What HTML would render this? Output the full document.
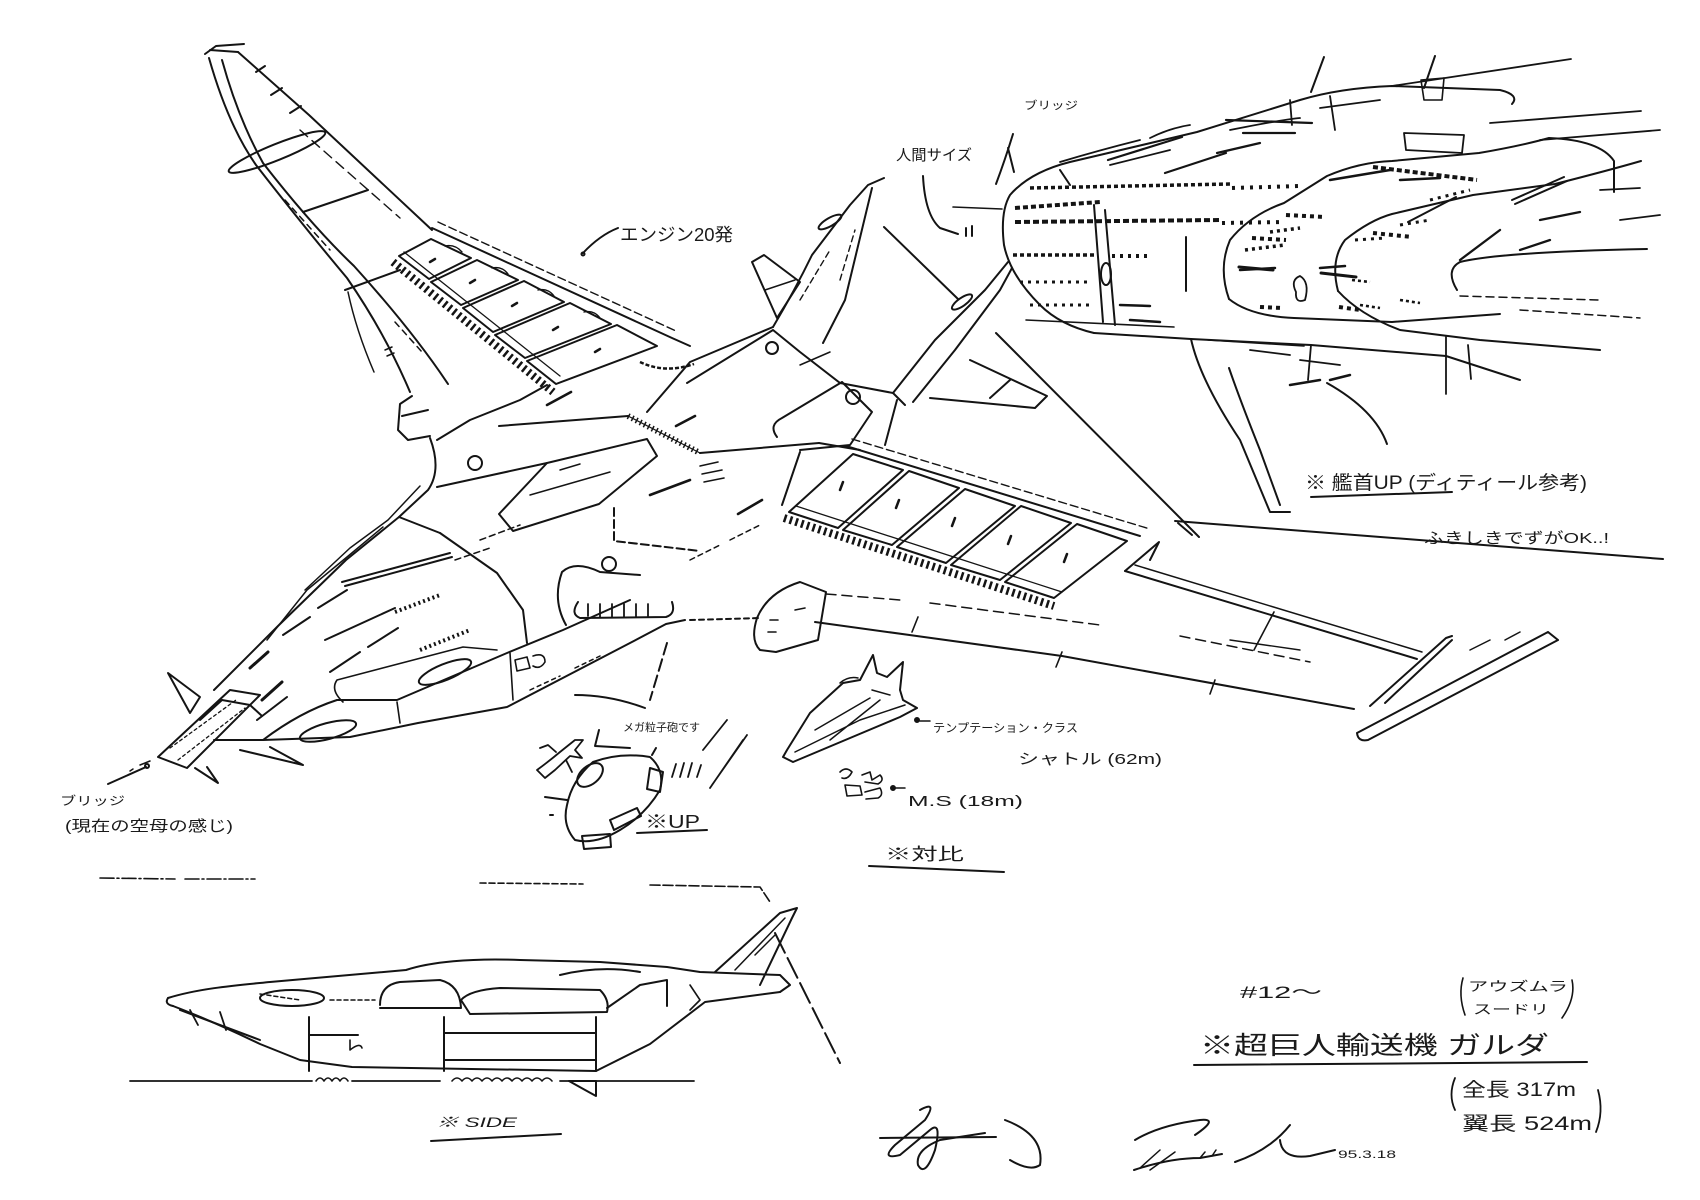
<!DOCTYPE html>
<html><head><meta charset="utf-8">
<style>
html,body{margin:0;padding:0;background:#fff;}
#c{position:relative;width:1700px;height:1200px;overflow:hidden;background:#fff;}
svg{position:absolute;left:0;top:0;}
.t{font-family:"Liberation Sans","Noto Sans CJK JP",sans-serif;fill:#1a1a1a;}
</style></head><body><div id="c">
<svg width="1700" height="1200" viewBox="0 0 1700 1200" xmlns="http://www.w3.org/2000/svg">
<g fill="none" stroke="#141414" stroke-width="2" stroke-linecap="round" stroke-linejoin="round">

<!-- ============ LEFT WING ============ -->
<path d="M209,58 Q228,125 256,165 Q305,228 347,278 Q385,333 410,392"/>
<path d="M222,60 Q238,118 263,163 Q312,226 354,266 Q412,330 448,384"/>
<path d="M238,52 L309,115 L432,230"/>
<path d="M205,54 L216,46 L244,44 M210,50 L238,52"/>
<path d="M256,72 l9,-6 M271,95 l11,-7 M290,113 l11,-7"/>
<ellipse cx="277" cy="152" rx="52" ry="8" transform="rotate(-22 277 152)"/>
<path d="M303,212 L368,190 M345,290 L400,270"/>
<path d="M348,292 Q356,330 374,372" stroke-width="1.5"/>
<path d="M285,200 L330,250 M395,322 L422,352" stroke-dasharray="6 5" stroke-width="1.5"/>
<path d="M300,130 L400,218" stroke-dasharray="10 6" stroke-width="1.4"/>
<path d="M385,350 L392,347 M387,356 L394,353" stroke-width="1.5"/>
<path d="M412,396 L400,404 L398,430 L408,440 L430,436 M402,416 L428,410"/>

<!-- left pods -->
<path d="M432,228 L672,338 L690,346"/>
<path d="M438,222 L676,331" stroke-width="1.4" stroke-dasharray="8 4"/>
<path d="M431,239 L471,258 L429,279 L399,256 Z"/>
<path d="M477,260 L518,280 L461,305 L431,282 Z"/>
<path d="M524,281 L564,302 L493,332 L463,308 Z"/>
<path d="M570,303 L611,324 L525,358 L495,335 Z"/>
<path d="M617,325 L657,346 L556,384 L527,361 Z"/>
<path d="M393,262 L553,392" stroke-width="8" stroke-dasharray="2.5 3.5" stroke-linecap="butt"/>
<path d="M404,252 L560,376" stroke-width="1.3"/>
<path d="M430,262 l5,-3 M470,283 l5,-3 M512,306 l5,-3 M553,330 l5,-3 M595,352 l5,-3" stroke-width="2.5"/>
<path d="M445,246 Q455,244 462,252 M492,268 Q502,266 508,274 M538,290 Q548,288 554,296 M584,312 Q594,310 600,318" stroke-width="1.4"/>
<path d="M640,362 Q665,374 694,364" stroke-dasharray="4 2" stroke-width="2.5" stroke-linecap="butt"/>

<!-- ============ FUSELAGE ============ -->
<path d="M430,438 Q442,470 428,490 L399,517 L346,560 L279,625 L214,690"/>
<path d="M420,486 L388,520 L350,548 L305,590" stroke-width="1.5"/>
<!-- nose -->
<path d="M158,757 L230,690 L260,695 L187,768 Z"/>
<path d="M170,748 L236,700 M178,760 L245,708" stroke-width="1.3" stroke-dasharray="3 3"/>
<path d="M200,720 L222,700 L250,705 L262,716"/>
<path d="M168,673 L200,697 L190,713 Z"/>
<path d="M195,768 L218,783 L207,767"/>
<path d="M240,750 L303,765 L270,747"/>
<path d="M150,761 L140,765 M133,769 l-3,2" stroke-width="1.5"/>
<!-- lower edge -->
<path d="M214,740 L263,740 L350,737 L418,723 L507,707 L630,643 L666,624 L685,620"/>
<path d="M690,620 L760,618" stroke-dasharray="5 4"/>
<path d="M263,740 Q300,712 337,700 L397,700 L507,653 L563,630 L630,600"/>
<path d="M343,702 Q330,690 337,680 L463,647 L497,650" stroke-width="1.6"/>
<path d="M397,702 L400,723 M510,653 L513,700" stroke-width="1.6"/>
<ellipse cx="328" cy="731" rx="29" ry="8" transform="rotate(-15 328 731)"/>
<ellipse cx="445" cy="672" rx="28" ry="8" transform="rotate(-22 445 672)"/>
<path d="M515,660 L527,657 L530,668 L517,671 Z M533,656 Q545,652 545,662 Q540,670 533,666" stroke-width="1.6"/>
<path d="M530,690 L560,676 M575,668 L600,656" stroke-width="1.5" stroke-dasharray="4 4"/>
<!-- slots -->
<path d="M342,582 L450,553 M345,586 L452,557"/>
<path d="M318,608 L347,590 M283,635 L310,617 M368,647 L398,628 M330,672 L360,652 M257,720 L287,697 M325,640 L395,608"/>
<path d="M395,612 L440,595 M420,650 L470,630" stroke-width="4" stroke-dasharray="2 3" stroke-linecap="butt"/>
<path d="M267,640 L307,590 L347,557 L383,527" stroke-width="1.5"/>
<path d="M250,668 l18,-16 M262,700 l20,-18" stroke-width="3"/>
<!-- panels -->
<path d="M440,533 L497,573 L523,610 L527,643"/>
<path d="M399,517 L440,533"/>
<path d="M437,487 L547,463"/>
<path d="M499,514 L513,531 L599,504 L657,456 L647,439 L547,463 Z"/>
<path d="M530,495 L610,472 M560,470 L580,464" stroke-width="1.5"/>
<circle cx="475" cy="463" r="7"/>
<circle cx="609" cy="564" r="7"/>
<path d="M614,508 L614,541 L700,551" stroke-dasharray="8 4"/>
<path d="M566,625 Q552,600 562,572 Q575,560 600,572 L640,575"/>
<path d="M578,602 Q570,614 580,618 L666,617 Q676,614 672,602" />
<path d="M588,604 L588,616 M600,604 L600,617 M612,604 L612,617 M624,604 L624,617 M636,604 L636,617 M648,604 L648,617" stroke-width="1.8"/>
<path d="M628,416 L700,453" stroke-width="6" stroke-dasharray="1.5 3" stroke-linecap="butt"/>
<path d="M628,416 L700,453" stroke-width="1.2"/>
<path d="M700,453 L819,443 M499,426 L628,416"/>
<path d="M676,426 L695,416 M738,514 L762,500 M547,405 L571,392 M650,495 L690,480" stroke-width="2.6"/>
<path d="M700,466 L718,462 M702,474 L722,470 M704,482 L724,478" stroke-width="1.6"/>
<path d="M690,560 L720,545 M730,540 L760,525" stroke-width="1.5" stroke-dasharray="5 4"/>
<path d="M437,440 L470,420 L520,400 L547,385"/>
<path d="M480,540 L520,525 M455,560 L490,548" stroke-width="1.5" stroke-dasharray="6 4"/>
<!-- tail region -->
<path d="M647,412 L690,362 L773,327"/>
<path d="M687,383 L773,330 L800,352 L840,383 L893,393 L905,405"/>
<path d="M777,437 Q768,425 782,418 L842,382 M842,382 L872,412 L850,445 L800,450"/>
<circle cx="772" cy="348" r="6"/>
<circle cx="853" cy="397" r="7"/>
<path d="M800,365 L830,352" stroke-width="1.5"/>
<path d="M752,262 L764,255 L800,282 L777,318 Z"/>
<path d="M765,290 L795,280" stroke-width="1.5"/>
<path d="M773,327 Q795,290 812,255 L850,205 L868,185 L884,178"/>
<path d="M823,343 L845,300 L872,188"/>
<path d="M800,300 L830,250 M840,280 L855,230" stroke-width="1.4" stroke-dasharray="6 4"/>
<ellipse cx="830" cy="222" rx="13" ry="4" transform="rotate(-30 830 222)"/>
<path d="M893,393 L935,340 L985,290 L1008,262"/>
<path d="M913,402 L955,350 L1000,290 L1012,268"/>
<ellipse cx="962" cy="302" rx="12" ry="4" transform="rotate(-35 962 302)"/>
<path d="M970,360 L1047,396 L1035,408 L930,398"/>
<path d="M990,398 L1010,380"/>
<path d="M897,400 L885,445 M819,443 L860,450 M800,452 L782,505"/>

<!-- right pods -->
<path d="M846,446 L1140,536"/>
<path d="M852,439 L1150,529" stroke-width="1.4" stroke-dasharray="8 4"/>
<path d="M853,454 L903,470 L838,528 L789,512 Z"/>
<path d="M909,471 L959,488 L892,545 L843,530 Z"/>
<path d="M965,489 L1015,506 L946,563 L897,547 Z"/>
<path d="M1021,506 L1071,523 L1000,580 L951,565 Z"/>
<path d="M1077,524 L1127,541 L1054,598 L1005,582 Z"/>
<path d="M784,518 L1054,606" stroke-width="8" stroke-dasharray="2.5 3.5" stroke-linecap="butt"/>
<path d="M796,506 L1062,592" stroke-width="1.3"/>
<path d="M840,490 l3,-8 M896,508 l3,-8 M952,526 l3,-8 M1008,544 l3,-8 M1064,562 l3,-8" stroke-width="2.5"/>

<!-- right wing -->
<path d="M757,618 Q750,640 760,650 L776,652 L818,640 L826,592 L800,582 Q768,592 757,618 Z"/>
<path d="M770,620 l8,0 M768,632 l8,0 M795,610 l10,-2" stroke-width="1.6"/>
<path d="M1125,571 L1159,542 L1150,560"/>
<path d="M1125,571 L1417,659"/>
<path d="M1135,565 L1422,652" stroke-width="1.5"/>
<path d="M815,622 L1062,656 L1354,709"/>
<path d="M826,594 L900,600 M930,603 L1100,625 M1180,636 L1310,662" stroke-width="1.5" stroke-dasharray="10 6"/>
<path d="M918,617 L912,632 M1062,652 L1056,667 M1215,680 L1210,694 M1274,612 L1254,650" stroke-width="1.6"/>
<path d="M1230,640 L1300,650" stroke-width="1.4"/>
<path d="M1357,733 L1548,632 M1368,740 L1558,640 M1548,632 L1558,640 M1357,733 Q1358,742 1368,740"/>
<path d="M1370,706 L1446,638 M1385,703 L1452,640 M1446,638 L1452,636"/>
<path d="M1470,650 L1490,640 M1505,640 L1520,632" stroke-width="1.5"/>

<!-- ============ BRIDGE CLOSE-UP ============ -->
<path d="M1094,333 Q1060,325 1040,305 Q1010,275 1004,245 Q1000,212 1010,195 Q1030,172 1070,162 L1121,150 L1197,132 L1300,100 Q1340,88 1392,86 L1500,90 Q1520,95 1512,104"/>
<path d="M1094,333 L1191,339 L1311,345 L1446,356 L1520,380"/>
<g stroke-linecap="butt">
<path d="M1015,208 L1100,202" stroke-width="4" stroke-dasharray="5 3"/>
<path d="M1030,188 L1230,184" stroke-width="3.5" stroke-dasharray="4 3"/>
<path d="M1015,222 L1220,220" stroke-width="4" stroke-dasharray="6 3"/>
<path d="M1013,255 L1094,255" stroke-width="3.5" stroke-dasharray="4 3"/>
<path d="M1020,282 L1090,282 M1030,305 L1090,305" stroke-width="3" stroke-dasharray="3 5"/>
<path d="M1232,188 L1300,186 M1222,223 L1285,222" stroke-width="4" stroke-dasharray="3 6"/>
<path d="M1112,256 L1150,256" stroke-width="4" stroke-dasharray="3 5"/>
<path d="M1245,250 L1285,245 M1270,232 L1300,228" stroke-width="3.5" stroke-dasharray="3 4"/>
<path d="M1355,240 L1385,238 M1400,225 L1430,220 M1430,200 L1470,190" stroke-width="3" stroke-dasharray="3 5"/>
<path d="M1352,280 L1370,282 M1360,305 L1380,308 M1400,300 L1420,303" stroke-width="2.6" stroke-dasharray="3 3"/>
<path d="M1286,215 L1325,217 M1373,233 L1412,237 M1252,238 L1286,240 M1339,307 L1360,310 M1260,307 L1282,308" stroke-width="4" stroke-dasharray="4 4"/>
<path d="M1373,167 L1477,180" stroke-width="4" stroke-dasharray="5 3"/>
</g>
<path d="M1094,205 L1103,322 M1105,210 L1115,325 M1186,237 L1186,291 M1060,170 L1070,185"/>
<ellipse cx="1106" cy="274" rx="5" ry="11"/>
<path d="M1120,305 L1150,306 M1130,320 L1160,322" stroke-width="2.5"/>
<path d="M1060,162 Q1100,150 1140,140 M1150,138 Q1170,128 1190,125 M1110,165 L1170,150 M1230,130 Q1280,120 1300,118 M1320,108 L1380,100" stroke-width="1.8"/>
<path d="M1226,120 L1312,123 M1243,133 L1295,133 M1108,160 L1182,137 M1165,173 L1226,153 M1217,153 L1260,143" stroke-width="2.2"/>
<path d="M1239,267 L1273,270 M1321,273 L1356,277" stroke-width="3"/>
<path d="M1404,133 L1464,135 L1462,153 L1406,150 Z" stroke-width="1.8"/>
<path d="M1408,222 L1456,197 M1512,200 L1564,177 M1515,204 L1567,181" stroke-width="2"/>
<path d="M1026,320 L1174,327 M1208,340 L1304,346" stroke-width="1.6"/>
<path d="M1290,100 L1292,125 M1330,96 L1335,130" stroke-width="1.8"/>
<path d="M1229,299 Q1218,268 1230,240 Q1250,215 1284,203 L1327,176 Q1360,162 1392,161 L1479,153 Q1520,146 1549,138 Q1600,140 1614,161 L1614,192"/>
<path d="M1229,299 Q1250,316 1294,318 L1392,322 L1500,314"/>
<path d="M1338,291 Q1330,260 1345,240 Q1370,220 1392,214 L1473,195 L1555,184 Q1610,170 1641,161"/>
<path d="M1338,291 Q1360,315 1400,330 L1480,340 L1600,350"/>
<path d="M1457,290 Q1445,270 1460,262 Q1500,252 1647,249"/>
<path d="M1460,296 L1600,300 M1520,310 L1640,318" stroke-dasharray="8 5" stroke-width="1.5"/>
<path d="M1392,86 L1571,59 M1490,123 L1641,111 M1540,140 L1660,130 M1600,190 L1640,188 M1620,220 L1660,215" stroke-width="1.8"/>
<path d="M1324,57 L1311,92 M1435,56 L1424,88"/>
<path d="M1421,80 L1444,78 L1442,100 L1424,100 Z" stroke-width="1.6"/>
<path d="M1240,270 L1275,268 M1320,268 L1345,266 M1330,180 L1390,170 M1400,180 L1440,178" stroke-width="2.5"/>
<path d="M1460,260 L1500,230 M1520,250 L1550,240 M1540,220 L1580,212" stroke-width="2.3"/>
<path d="M1296,292 Q1290,280 1300,276 Q1310,282 1305,300 Q1295,304 1296,292" stroke-width="1.8"/>
<path d="M1191,339 Q1200,380 1240,440 L1270,512 L1290,512"/>
<path d="M1229,368 Q1240,400 1260,450 L1280,505"/>
<path d="M1327,383 Q1375,410 1387,444"/>
<path d="M1446,337 L1446,394 M1468,345 L1471,379 M1311,345 L1308,380 M1250,350 L1290,355 M1300,360 L1340,365" stroke-width="1.8"/>
<path d="M1290,385 L1320,380 M1330,380 L1350,375" stroke-width="2.5"/>
<path d="M1013,134 Q1005,160 996,184 M1008,148 L1014,172"/>
<path d="M923,176 Q925,215 940,228 L958,234"/>
<path d="M966,228 L966,236 M972,226 L972,236"/>
<path d="M953,207 L1002,209" stroke-width="1.6"/>
<path d="M884,227 L958,299"/>
<path d="M996,333 L1199,537"/>
<path d="M1175,521 L1663,559"/>
<path d="M1178,523 L1192,535"/>
<path d="M1311,497 L1452,492"/>

<!-- ============ SMALL ITEMS ============ -->
<!-- UP circle -->
<path d="M593,762 Q620,752 650,757 Q665,770 660,790 Q645,815 620,830 Q595,845 575,840 Q562,825 567,805 Q572,780 593,762 Z"/>
<ellipse cx="590" cy="775" rx="15" ry="9" transform="rotate(-40 590 775)"/>
<path d="M650,768 L663,772 L660,792 L647,789 Z"/>
<path d="M610,820 L637,808 L641,816 L614,830 Z"/>
<path d="M582,836 L610,834 L611,847 L584,849 Z"/>
<path d="M652,755 L656,748 M545,797 L567,800 M550,815 l3,0"/>
<path d="M537,770 Q548,762 560,752 L575,740 L583,740 L575,750 L582,758 L570,756 L555,770 L545,778 Z" stroke-width="1.8"/>
<path d="M540,748 L548,745 L556,752 M566,760 L572,772" stroke-width="1.8"/>
<path d="M599,730 L595,746 L630,748"/>
<path d="M672,777 L676,764 M680,777 L684,763 M688,777 L692,763 M697,777 L701,765" stroke-width="1.8"/>
<path d="M727,720 L703,750 M747,735 L712,785 M743,740 L710,788" stroke-width="1.8"/>
<path d="M575,695 Q610,695 645,708"/>
<path d="M667,643 L650,700" stroke-dasharray="12 5"/>
<path d="M637,833 L707,830"/>
<!-- fighter -->
<path d="M783,757 L793,762 L900,717 L917,708 L903,700 L900,690 L903,662 L887,677 L877,673 L873,655 L860,680 L843,683 L810,713 L787,750 Z"/>
<path d="M795,752 L860,720 L905,705 M815,730 L870,698 M830,740 L880,700 M872,690 L890,695" stroke-width="1.5"/>
<path d="M840,683 Q848,676 858,678" stroke-width="1.5"/>
<circle cx="917" cy="720" r="2" fill="#141414"/>
<path d="M920,721 L930,721" stroke-width="1.5"/>
<!-- MS -->
<path d="M840,772 Q846,766 852,772 Q848,780 842,778 M845,785 L860,786 L862,795 L847,796 Z M862,775 L870,772 L872,780 L880,775 Q885,780 878,784 L865,782" stroke-width="1.6"/>
<path d="M865,792 L880,788 Q884,795 878,798 L866,799" stroke-width="1.6"/>
<circle cx="893" cy="788" r="2" fill="#141414"/>
<path d="M896,788 L905,788" stroke-width="1.5"/>
<!-- leader for bridge (left) -->
<path d="M108,784 L146,767"/>
<circle cx="147" cy="766" r="2"/>
<!-- engine leader -->
<path d="M583,253 Q600,235 618,228"/>
<circle cx="583" cy="254" r="1.5"/>
<!-- 対比 underline -->
<path d="M869,866 L1004,872"/>

<!-- ============ SIDE VIEW ============ -->
<path d="M100,878 L175,879 M185,879 L255,879" stroke-width="1.6" stroke-dasharray="14 3 2 3"/>
<path d="M480,883 L583,884" stroke-width="1.6" stroke-dasharray="6 3"/>
<path d="M650,885 L760,887 L770,902" stroke-width="1.6" stroke-dasharray="10 3"/>
<path d="M130,1081 L312,1081 M352,1081 L440,1081 M560,1081 L694,1081" stroke-width="1.8"/>
<path d="M316,1081 q4,-6 8,0 q4,-6 8,0 q4,-6 8,0 q4,-6 8,0" stroke-width="1.6"/>
<path d="M452,1081 q5,-6 10,0 q5,-6 10,0 q5,-6 10,0 q5,-6 10,0 q5,-6 10,0 q5,-6 10,0 q5,-6 10,0 q5,-6 10,0 q5,-6 10,0 q5,-6 10,0" stroke-width="1.6"/>
<path d="M168,998 C200,988 240,985 270,982 L406,970 C430,962 470,958 520,960 L600,962 L667,967 L700,972 L780,975 L790,985 L780,992"/>
<path d="M173,1006 Q210,1020 260,1044 L300,1060 L352,1067 L596,1071 L650,1044 L705,1002 L780,992"/>
<path d="M168,998 Q164,1004 173,1006"/>
<path d="M715,972 L780,913 L797,908 L792,918 L760,985"/>
<path d="M735,970 L785,918 M755,955 L775,935" stroke-width="1.5"/>
<path d="M380,1005 Q380,985 400,982 L440,980 Q460,985 461,1008 L380,1008" />
<ellipse cx="292" cy="998" rx="32" ry="8"/>
<path d="M461,1000 Q470,990 500,988 L600,990 Q610,1000 607,1012 L470,1014 Z"/>
<path d="M607,1008 L640,985 L667,980 L667,1006"/>
<path d="M560,975 Q600,965 640,972"/>
<path d="M309,1017 L309,1071 M444,1017 L444,1071 M596,1017 L596,1071"/>
<path d="M309,1035 L358,1035 M444,1033 L596,1033 M444,1060 L596,1060 M180,1010 L260,1040"/>
<path d="M350,1040 L350,1050 Q360,1042 362,1048" stroke-width="1.6"/>
<path d="M190,1010 L198,1025 M220,1012 L226,1030" stroke-width="1.8"/>
<path d="M569,1081 L596,1081 L596,1096 Q585,1090 569,1081"/>
<path d="M260,994 L300,1000 M330,1000 L375,1000" stroke-width="1.5" stroke-dasharray="4 3"/>
<path d="M690,985 L700,1000 L690,1010" stroke-width="1.6"/>
<path d="M775,933 L840,1063" stroke-dasharray="22 6"/>
<path d="M431,1141 L561,1134"/>

<!-- ============ TITLE UNDERLINE & SIGNATURES ============ -->
<path d="M1194,1065 L1587,1062"/>
<path d="M1455,1078 Q1448,1095 1455,1110" stroke-width="1.8"/>
<path d="M1598,1090 Q1604,1112 1596,1132" stroke-width="1.8"/>
<path d="M1463,978 Q1458,995 1465,1015" stroke-width="1.6"/>
<path d="M1572,980 Q1576,998 1562,1018" stroke-width="1.6"/>
<path d="M880,1138 L996,1137"/>
<path d="M920,1110 Q938,1100 925,1120 L895,1145 Q880,1160 900,1155 L930,1130 Q942,1120 935,1150 Q925,1178 918,1165 Q915,1150 940,1140 L985,1133"/>
<path d="M1005,1120 Q1045,1135 1040,1165 Q1030,1172 1010,1160"/>
<path d="M1135,1140 Q1160,1125 1200,1120 Q1220,1118 1195,1135"/>
<path d="M1134,1170 Q1170,1158 1200,1158 L1222,1154 M1235,1162 Q1270,1150 1290,1125 M1280,1140 Q1282,1160 1310,1156 L1335,1150"/>
<path d="M1140,1168 L1160,1150 M1150,1170 L1175,1152 M1200,1158 l5,-6 M1212,1156 l4,-6" stroke-width="1.5"/>
</g>

<!-- ============ TEXT ============ -->
<g class="t">
<text x="620" y="241" font-size="18" textLength="113" lengthAdjust="spacingAndGlyphs">エンジン20発</text>
<text x="1024" y="109" font-size="11" textLength="54" lengthAdjust="spacingAndGlyphs">ブリッジ</text>
<text x="896" y="160" font-size="15" textLength="76" lengthAdjust="spacingAndGlyphs">人間サイズ</text>
<text x="1305" y="489" font-size="19" textLength="282" lengthAdjust="spacingAndGlyphs">※ 艦首UP (ディティール参考)</text>
<text x="1424" y="543" font-size="15" textLength="185" lengthAdjust="spacingAndGlyphs">ふきしきでずがOK..!</text>
<text x="60" y="805" font-size="12" textLength="65" lengthAdjust="spacingAndGlyphs">ブリッジ</text>
<text x="65" y="831" font-size="15" textLength="168" lengthAdjust="spacingAndGlyphs">(現在の空母の感じ)</text>
<text x="623" y="731" font-size="11" textLength="77" lengthAdjust="spacingAndGlyphs">メガ粒子砲です</text>
<text x="645" y="828" font-size="18" textLength="55" lengthAdjust="spacingAndGlyphs">※UP</text>
<text x="933" y="732" font-size="12" textLength="145" lengthAdjust="spacingAndGlyphs">テンプテーション・クラス</text>
<text x="1018" y="764" font-size="15" textLength="144" lengthAdjust="spacingAndGlyphs">シャトル (62m)</text>
<text x="908" y="806" font-size="15" textLength="115" lengthAdjust="spacingAndGlyphs">M.S (18m)</text>
<text x="885" y="860" font-size="17" textLength="79" lengthAdjust="spacingAndGlyphs">※対比</text>
<text x="436" y="1127" font-size="14" font-style="italic" textLength="81" lengthAdjust="spacingAndGlyphs">※ SIDE</text>
<text x="1240" y="998" font-size="17" textLength="82" lengthAdjust="spacingAndGlyphs">#12〜</text>
<text x="1468" y="991" font-size="13" textLength="100" lengthAdjust="spacingAndGlyphs">アウズムラ</text>
<text x="1473" y="1014" font-size="13" textLength="76" lengthAdjust="spacingAndGlyphs">スードリ</text>
<text x="1200" y="1054" font-size="25" textLength="349" lengthAdjust="spacingAndGlyphs">※超巨人輸送機 ガルダ</text>
<text x="1462" y="1096" font-size="19" textLength="114" lengthAdjust="spacingAndGlyphs">全長 317m</text>
<text x="1462" y="1130" font-size="19" textLength="130" lengthAdjust="spacingAndGlyphs">翼長 524m</text>
<text x="1338" y="1158" font-size="11" textLength="58" lengthAdjust="spacingAndGlyphs">95.3.18</text>
</g>
</svg>
</div></body></html>
